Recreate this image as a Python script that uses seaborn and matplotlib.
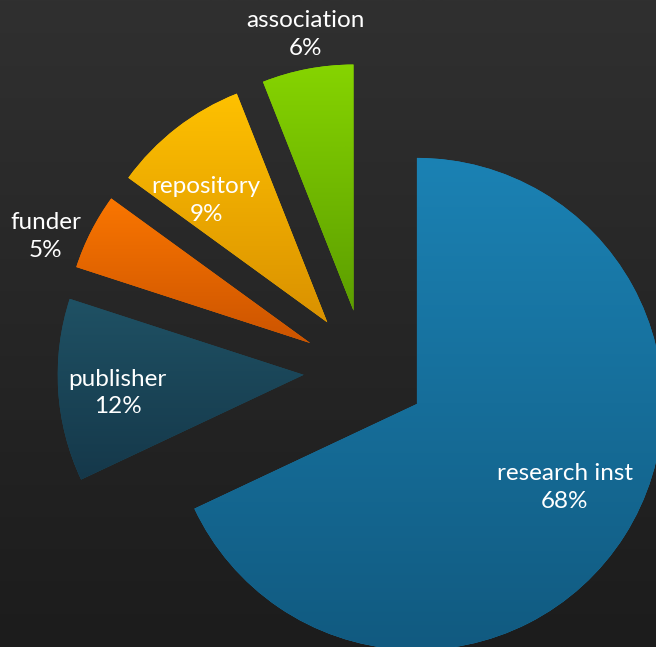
import numpy as np
import seaborn as sns
import matplotlib
matplotlib.use("Agg")
import matplotlib.pyplot as plt
from matplotlib.colors import LinearSegmentedColormap

# data
categories = ["research inst", "publisher", "funder", "repository", "association"]
shares = [68, 12, 5, 9, 6]

# colours (top, bottom of each slice gradient)
top_colors = ["#1b82b4", "#1f5164", "#fa7600", "#fec100", "#86d400"]
bottom_colors = ["#115a80", "#15384a", "#cc5400", "#da9100", "#5c9e00"]
# label placement: radial distance (in radii) and angular nudge (deg)
label_dist = [0.69, 0.76, 1.16, 0.70, 1.14]
label_nudge = [3, 2, 5, 7, -1]

sns.set_theme(style="dark")
plt.rcParams["font.family"] = ["Lato", "DejaVu Sans"]

fig = plt.figure(figsize=(6.56, 6.47), dpi=100)
ax = fig.add_axes([0, 0, 1, 1])

# background: dark vertical gradient
bg = LinearSegmentedColormap.from_list("bg", ["#1c1c1c", "#303030"])
ax.imshow(np.linspace(0, 1, 256).reshape(-1, 1), cmap=bg, aspect="auto",
          extent=[-1.484, 1.183, -1.122, 1.508], origin="lower", zorder=0)

wedges, texts = ax.pie(shares, labels=categories, startangle=90, counterclock=False,
                       explode=[0.25] * len(shares), radius=1, colors=top_colors,
                       wedgeprops=dict(linewidth=0, zorder=2))

for i, w in enumerate(wedges):
    x0, y0, x1, y1 = w.get_path().get_extents().extents
    cm = LinearSegmentedColormap.from_list(f"c{i}", [bottom_colors[i], top_colors[i]])
    im = ax.imshow(np.linspace(0, 1, 256).reshape(-1, 1), cmap=cm, aspect="auto",
                   extent=[x0, x1, y0, y1], origin="lower", zorder=3)
    im.set_clip_path(w)

    mid = np.deg2rad((w.theta1 + w.theta2) / 2 + label_nudge[i])
    cx, cy = w.center
    t = texts[i]
    t.set_position((cx + label_dist[i] * w.r * np.cos(mid),
                    cy + label_dist[i] * w.r * np.sin(mid)))
    t.set_text(f"{categories[i]}\n{shares[i]}%")
    t.set_ha("center")
    t.set_va("center")
    t.set_color("white")
    t.set_fontsize(17.5)
    t.set_linespacing(1.4)
    t.set_zorder(5)

ax.set_xlim(-1.484, 1.183)
ax.set_ylim(-1.122, 1.508)
ax.set_aspect("auto")
ax.axis("off")

fig.savefig("out.png", dpi=100, facecolor="#262626")
